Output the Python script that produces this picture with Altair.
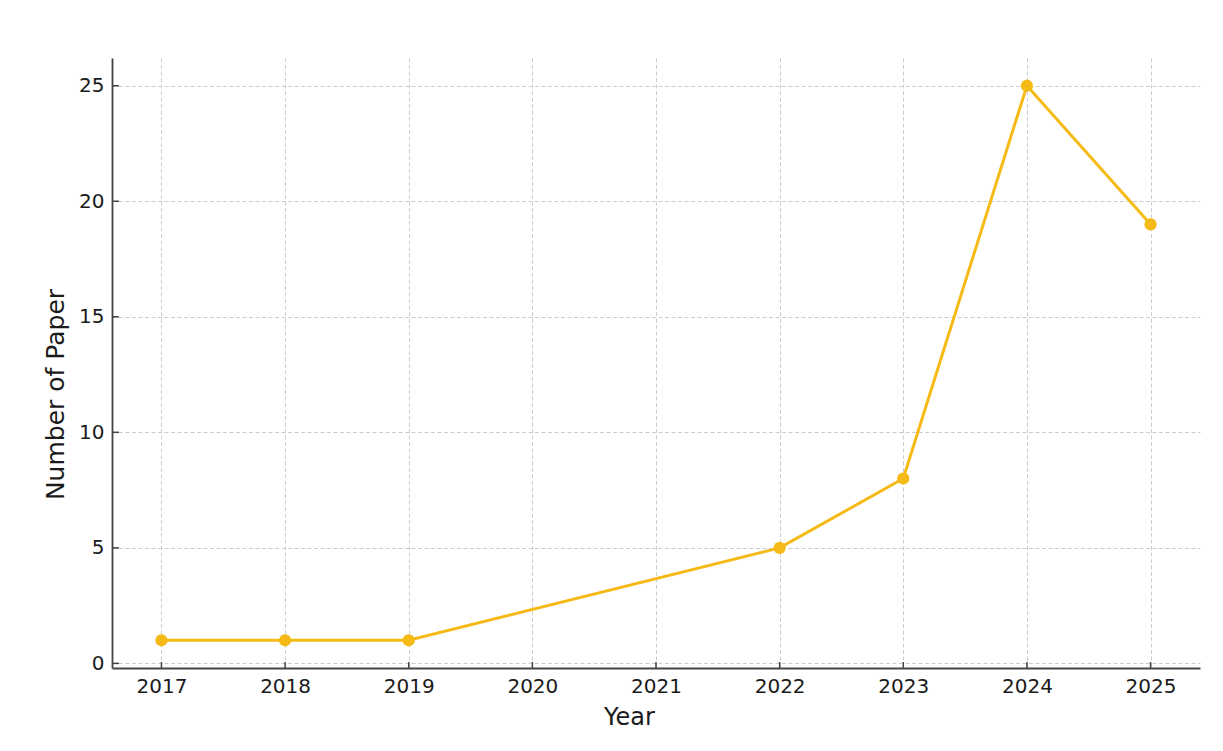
import altair as alt
import pandas as pd

years = [2017, 2018, 2019, 2022, 2023, 2024, 2025]
papers = [1, 1, 1, 5, 8, 25, 19]
x_ticks = [2017, 2018, 2019, 2020, 2021, 2022, 2023, 2024, 2025]
y_ticks = [0, 5, 10, 15, 20, 25]

df = pd.DataFrame({"Year": years, "Papers": papers})
xt = pd.DataFrame({"Year": x_ticks})
yt = pd.DataFrame({"Papers": y_ticks})

COLOR = "#F5BA16"
AXIS_COLOR = "#444444"
FONT = "DejaVu Sans"

x_scale = alt.Scale(domain=[2016.6, 2025.4], nice=False, zero=False)
y_scale = alt.Scale(domain=[-0.2, 26.2], nice=False, zero=False)

x_axis = alt.Axis(
    title="Year", values=x_ticks, format="d", labelPadding=8, labelFlush=False,
    titleX=517, titleY=56, titleBaseline="alphabetic", titleAlign="center",
)
y_axis = alt.Axis(
    title="Number of Paper", values=y_ticks, format="d", labelPadding=8,
    titleX=-49, titleY=336, titleAngle=270, titleBaseline="alphabetic", titleAlign="center",
    titleFontSize=25,
)

X = alt.X("Year:Q", scale=x_scale, axis=x_axis)
Y = alt.Y("Papers:Q", scale=y_scale, axis=y_axis)

line = alt.Chart(df).mark_line(color=COLOR, strokeWidth=3).encode(x=X, y=Y)
points = alt.Chart(df).mark_circle(color=COLOR, size=150, opacity=1).encode(x=X, y=Y)

ytick_marks = alt.Chart(yt).mark_rule(color=AXIS_COLOR, strokeWidth=1.5).encode(
    y=Y, x=alt.value(0), x2=alt.value(7)
)
xtick_marks = alt.Chart(xt).mark_rule(color=AXIS_COLOR, strokeWidth=1.5).encode(
    x=X, y=alt.value(610), y2=alt.value(604)
)

chart = alt.layer(line, points, ytick_marks, xtick_marks).properties(
    width=1088, height=610,
    autosize=alt.AutoSizeParams(type="none"),
    padding={"left": 104, "top": 50, "right": 15, "bottom": 70},
).configure_view(stroke=None).configure_axis(
    labelFont=FONT, titleFont=FONT, labelFontSize=20, titleFontSize=24,
    titleFontWeight="normal", labelColor="#1a1a1a", titleColor="#1a1a1a",
    domainColor=AXIS_COLOR, domainWidth=1.8, ticks=False,
    grid=True, gridColor="#cccccc", gridDash=[4, 2.5], gridWidth=1,
)

chart.save("out.html", embed_options={"renderer": "svg", "actions": False})
